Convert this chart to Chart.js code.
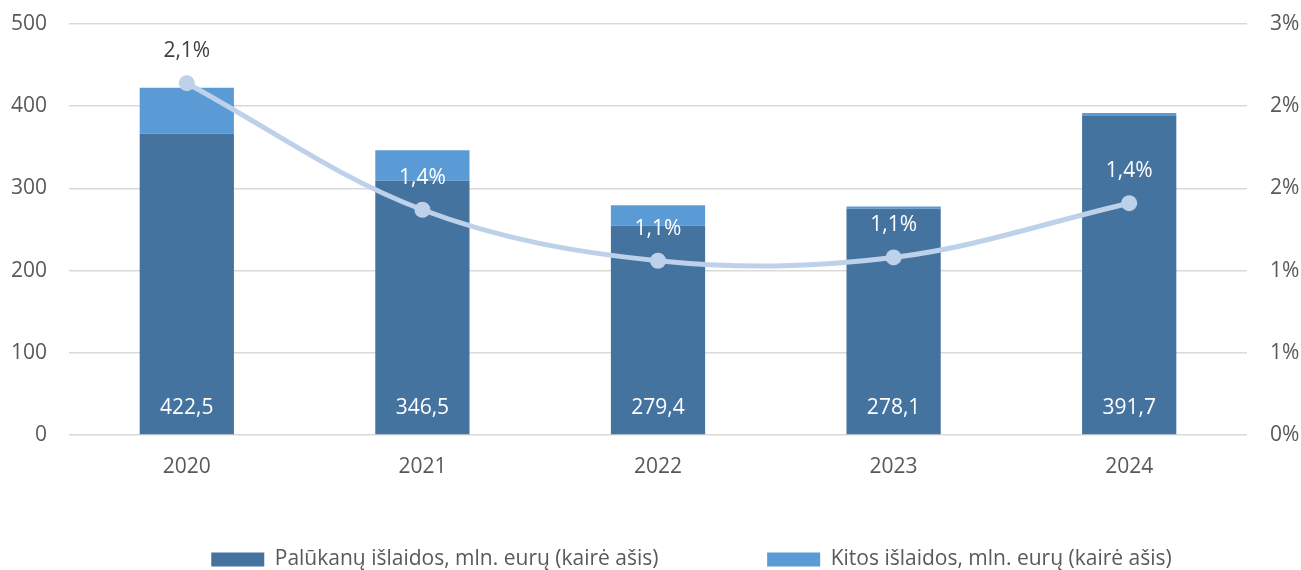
<!DOCTYPE html>
<html>
<head>
<meta charset="utf-8">
<script src="https://cdn.jsdelivr.net/npm/chart.js@4/dist/chart.umd.min.js"></script>
<style>
html,body{margin:0;padding:0;background:#fff;}
#wrap{width:1301px;height:570px;position:relative;}
</style>
</head>
<body>
<div id="wrap"><canvas id="c" width="1301" height="570"></canvas></div>
<script>
const categories = ['2020', '2021', '2022', '2023', '2024'];
const interestValues = [366.6, 309.4, 254.6, 275.3, 388.2];
const otherValues = [55.9, 37.1, 24.8, 2.8, 3.5];
const totalValues = [422.5, 346.5, 279.4, 278.1, 391.7];
const gdpShareValues = [2.14, 1.37, 1.06, 1.08, 1.41];
const seriesNames = ['Palūkanų išlaidos, mln. eurų (kairė ašis)', 'Kitos išlaidos, mln. eurų (kairė ašis)', 'Išlaidų santykis su BVP, % (dešinė ašis)'];
const leftTicks = [0, 100, 200, 300, 400, 500];

const FONT = "'Open Sans', sans-serif";
const FS = 21;
const TXT = '#595959';

const labelPlugin = {
  id: 'valueLabels',
  afterDatasetsDraw(chart) {
    const ctx = chart.ctx;
    ctx.save();
    ctx.font = FS + 'px ' + FONT;
    ctx.textAlign = 'center';
    ctx.textBaseline = 'middle';
    const yScale = chart.scales.y;
    const base = yScale.getPixelForValue(0);
    const barMeta = chart.getDatasetMeta(0);
    barMeta.data.forEach((el, i) => {
      ctx.fillStyle = '#ffffff';
      ctx.fillText(totalValues[i].toFixed(1).replace('.', ','), el.x, base - 27);
    });
    const lineMeta = chart.getDatasetMeta(2);
    lineMeta.data.forEach((el, i) => {
      const ty = el.y - 32;
      const topPix = yScale.getPixelForValue(totalValues[i]);
      ctx.fillStyle = ty > topPix + 8 ? '#ffffff' : '#404040';
      ctx.fillText(gdpShareValues[i].toFixed(1).replace('.', ',') + '%', el.x, ty);
    });
    ctx.restore();
  }
};

const legendShift = {
  id: 'legendShift',
  afterLayout(chart) {
    const lg = chart.legend;
    if (lg) { lg.left += 41; lg.right += 41; lg.top += 10; lg.bottom += 10; }
  }
};

const GAP = '\u00A0'.repeat(19);

new Chart(document.getElementById('c'), {
  data: {
    labels: categories,
    datasets: [
      { type: 'bar', label: seriesNames[0], data: interestValues, backgroundColor: '#44739F', stack: 's', yAxisID: 'y', order: 2,
        categoryPercentage: 1, barPercentage: 0.4 },
      { type: 'bar', label: seriesNames[1], data: otherValues, backgroundColor: '#5B9BD5', stack: 's', yAxisID: 'y', order: 2,
        categoryPercentage: 1, barPercentage: 0.4 },
      { type: 'line', label: seriesNames[2], data: gdpShareValues, yAxisID: 'y1', order: 1,
        borderColor: '#BED1EA', backgroundColor: '#BED1EA', borderWidth: 5, tension: 0.35,
        pointRadius: 8, pointHoverRadius: 8, pointBackgroundColor: '#BED1EA', pointBorderColor: '#BED1EA', pointBorderWidth: 0 }
    ]
  },
  options: {
    responsive: false,
    animation: false,
    layout: { padding: { left: 0, right: 0, top: 24, bottom: 0 } },
    plugins: {
      tooltip: { enabled: false },
      legend: {
        position: 'bottom',
        labels: {
          generateLabels(chart) {
            const items = Chart.defaults.plugins.legend.labels.generateLabels(chart).filter(it => it.datasetIndex < 2);
            items[0].text = items[0].text + GAP;
            return items;
          },
          boxWidth: 53, boxHeight: 14, padding: 5,
          color: TXT, font: { family: FONT, size: FS }
        }
      }
    },
    scales: {
      x: {
        stacked: true,
        grid: { display: false, drawTicks: false },
        border: { display: false },
        ticks: { color: TXT, font: { family: FONT, size: FS }, padding: 19 },
        afterFit(s) { const lh = s.chart.legend ? s.chart.legend.height : 30; s.height = 135 - lh; }
      },
      y: {
        stacked: true,
        position: 'left',
        min: 0, max: 500,
        afterBuildTicks(s) { s.ticks = leftTicks.map(v => ({ value: v })); },
        grid: { color: '#D9D9D9', lineWidth: 1.5, drawTicks: false },
        border: { display: false },
        ticks: { color: TXT, font: { family: FONT, size: FS }, padding: 22 },
        afterFit(s) { s.width = 69; s.paddingTop = 0; s.paddingBottom = 0; }
      },
      y1: {
        position: 'right',
        min: 0, max: 2.5,
        grid: { display: false, drawTicks: false },
        border: { display: false },
        ticks: { stepSize: 0.5, color: TXT, font: { family: FONT, size: FS }, padding: 23,
          callback: (v) => Math.round(v) + '%' },
        afterFit(s) { s.width = 54; s.paddingTop = 0; s.paddingBottom = 0; }
      }
    }
  },
  plugins: [labelPlugin, legendShift]
});
</script>
</body>
</html>
